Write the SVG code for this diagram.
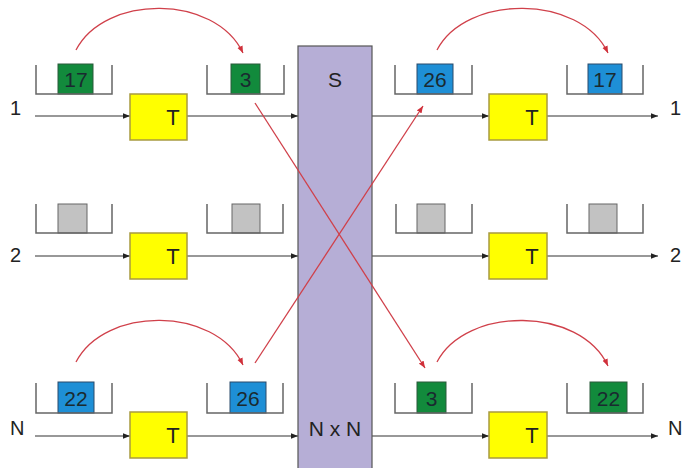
<svg xmlns="http://www.w3.org/2000/svg" width="682" height="468" viewBox="0 0 682 468">
<defs>
<marker id="ab" viewBox="0 0 10 10" refX="10" refY="5" markerWidth="7" markerHeight="7" markerUnits="userSpaceOnUse" orient="auto"><path d="M0,1 L10,5 L0,9 z" fill="#222"/></marker>
<marker id="ar" viewBox="0 0 10 10" refX="10" refY="5" markerWidth="7" markerHeight="7" markerUnits="userSpaceOnUse" orient="auto"><path d="M0,1 L10,5 L0,9 z" fill="#d0303a"/></marker>
<style>
.ln{stroke:#333;stroke-width:1.2;fill:none}
.rl{stroke:#d0404a;stroke-width:1.3;fill:none}
.q{stroke:#666;stroke-width:1.5;fill:none}
.g{fill:#128a3c;stroke:#2a5a3a;stroke-width:1}
.b{fill:#1e8fd6;stroke:#2a4a6a;stroke-width:1}
.y{fill:#ffff00;stroke:#a89a40;stroke-width:1.5}
.gr{fill:#c2c2c2;stroke:#666;stroke-width:1}
.sw{fill:#b6aed6;stroke:#555;stroke-width:1.2}
.t{font-family:"Liberation Sans",Arial,sans-serif;fill:#222}
.n{font-family:"Liberation Sans",Arial,sans-serif;font-size:21px;fill:#1a2a30;text-anchor:middle}
</style>
</defs>

<g id="connectors">
<line class="ln" x1="35" y1="116" x2="130" y2="116" marker-end="url(#ab)"/>
<line class="ln" x1="187" y1="116" x2="298" y2="116" marker-end="url(#ab)"/>
<line class="ln" x1="372" y1="116" x2="489" y2="116" marker-end="url(#ab)"/>
<line class="ln" x1="547" y1="116" x2="658" y2="116" marker-end="url(#ab)"/>
<line class="ln" x1="35" y1="256" x2="130" y2="256" marker-end="url(#ab)"/>
<line class="ln" x1="187" y1="256" x2="298" y2="256" marker-end="url(#ab)"/>
<line class="ln" x1="372" y1="256" x2="489" y2="256" marker-end="url(#ab)"/>
<line class="ln" x1="547" y1="256" x2="658" y2="256" marker-end="url(#ab)"/>
<line class="ln" x1="35" y1="436" x2="130" y2="436" marker-end="url(#ab)"/>
<line class="ln" x1="187" y1="436" x2="298" y2="436" marker-end="url(#ab)"/>
<line class="ln" x1="372" y1="436" x2="489" y2="436" marker-end="url(#ab)"/>
<line class="ln" x1="547" y1="436" x2="658" y2="436" marker-end="url(#ab)"/>
</g>

<g id="switch">
<rect class="sw" x="298" y="46" width="74" height="424"/>
<text class="t" x="335" y="87" font-size="21" text-anchor="middle">S</text>
<text class="t" x="335" y="436" font-size="21" text-anchor="middle">N x N</text>
</g>

<g id="labels">
<text class="t" x="10" y="115" font-size="20">1</text>
<text class="t" x="10" y="262" font-size="20">2</text>
<text class="t" x="10" y="435" font-size="20">N</text>
<text class="t" x="670" y="115" font-size="20">1</text>
<text class="t" x="670" y="262" font-size="20">2</text>
<text class="t" x="668" y="435" font-size="20">N</text>
</g>

<g id="t-boxes">
<g id="t-in-1"><rect class="y" x="130" y="94" width="57" height="46"/><text class="t" x="173" y="125" font-size="22" text-anchor="middle">T</text></g>
<g id="t-out-1"><rect class="y" x="489" y="94" width="58" height="46"/><text class="t" x="532" y="125" font-size="22" text-anchor="middle">T</text></g>
<g id="t-in-2"><rect class="y" x="130" y="233" width="57" height="46"/><text class="t" x="173" y="264" font-size="22" text-anchor="middle">T</text></g>
<g id="t-out-2"><rect class="y" x="489" y="233" width="58" height="46"/><text class="t" x="532" y="264" font-size="22" text-anchor="middle">T</text></g>
<g id="t-in-N"><rect class="y" x="130" y="412" width="57" height="46"/><text class="t" x="173" y="443" font-size="22" text-anchor="middle">T</text></g>
<g id="t-out-N"><rect class="y" x="489" y="412" width="58" height="46"/><text class="t" x="532" y="443" font-size="22" text-anchor="middle">T</text></g>
</g>

<g id="queues">
<g id="q-1a"><rect class="g" x="58" y="64" width="35" height="30"/><text class="n" x="76" y="87">17</text><path class="q" d="M36,65 V94 H112 V65"/></g>
<g id="q-1b"><rect class="g" x="231" y="64" width="29" height="30"/><text class="n" x="245.5" y="87">3</text><path class="q" d="M207,65 V94 H284 V65"/></g>
<g id="q-1c"><rect class="b" x="417" y="64" width="36" height="30"/><text class="n" x="435" y="87">26</text><path class="q" d="M395,65 V94 H472 V65"/></g>
<g id="q-1d"><rect class="b" x="588" y="64" width="34" height="30"/><text class="n" x="605" y="87">17</text><path class="q" d="M567,65 V94 H643 V65"/></g>

<g id="q-2a"><rect class="gr" x="58" y="204" width="29" height="29"/><path class="q" d="M36,204 V233 H112 V204"/></g>
<g id="q-2b"><rect class="gr" x="232" y="204" width="28" height="29"/><path class="q" d="M207,204 V233 H283 V204"/></g>
<g id="q-2c"><rect class="gr" x="417" y="204" width="28" height="29"/><path class="q" d="M396,204 V233 H472 V204"/></g>
<g id="q-2d"><rect class="gr" x="589" y="204" width="28" height="29"/><path class="q" d="M567,204 V233 H643 V204"/></g>

<g id="q-Na"><rect class="b" x="58" y="382" width="36" height="31"/><text class="n" x="76" y="406">22</text><path class="q" d="M36,383 V413 H112 V383"/></g>
<g id="q-Nb"><rect class="b" x="230" y="382" width="36" height="31"/><text class="n" x="248" y="406">26</text><path class="q" d="M207,383 V413 H283 V383"/></g>
<g id="q-Nc"><rect class="g" x="417" y="382" width="29" height="31"/><text class="n" x="431.5" y="406">3</text><path class="q" d="M395,383 V413 H472 V383"/></g>
<g id="q-Nd"><rect class="g" x="590" y="382" width="37" height="31"/><text class="n" x="608.5" y="406">22</text><path class="q" d="M567,383 V413 H643 V383"/></g>
</g>

<g id="moves">
<path class="rl" d="M76,50 C105,-6 215,-6 243,53" marker-end="url(#ar)"/>
<path class="rl" d="M437,50 C466,-6 580,-6 608,53" marker-end="url(#ar)"/>
<path class="rl" d="M76,362 C105,306 215,306 243,365" marker-end="url(#ar)"/>
<path class="rl" d="M437,362 C466,306 580,306 608,366" marker-end="url(#ar)"/>
<line class="rl" x1="255" y1="103" x2="425" y2="368" marker-end="url(#ar)"/>
<line class="rl" x1="255" y1="363" x2="423" y2="106" marker-end="url(#ar)"/>
</g>
</svg>
